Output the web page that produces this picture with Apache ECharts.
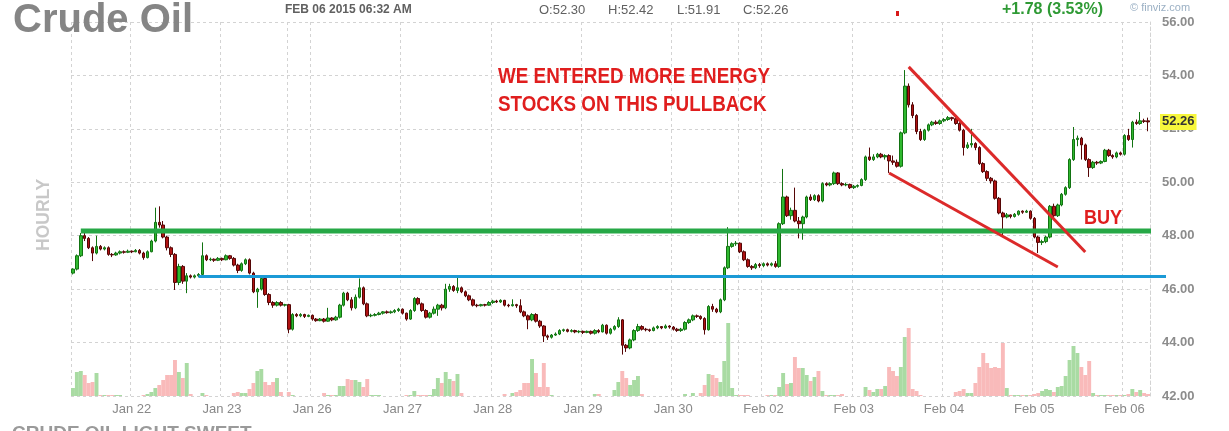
<!DOCTYPE html>
<html><head><meta charset="utf-8">
<script src="https://cdn.jsdelivr.net/npm/echarts@6/dist/echarts.min.js"></script>
<style>html,body{margin:0;padding:0;background:#fff}#c{width:1229px;height:431px}</style>
</head><body><div id="c"></div>
<script>
// ---- DATA ---- rows: [open, close, low, high, volume]
const sessionHours = ['18','19','20','21','22','23','00','01','02','03','04','05','06','07','08','09','10','11','12','13','14','15','16'];

const jan21 = [
[46.60,46.75,46.55,46.78,8],[46.75,47.25,46.70,47.30,24],[47.25,48.00,47.20,48.10,25],[48.00,47.90,47.80,48.15,21],
[47.90,47.55,47.50,47.95,13],[47.55,47.35,47.05,47.60,14],[47.35,47.60,47.30,48.00,23],[47.60,47.50,47.45,47.65,1],
[47.50,47.55,47.45,47.60,1]];
const jan22 = [
[47.55,47.30,47.25,47.60,1],[47.30,47.28,47.20,47.35,1],[47.28,47.35,47.25,47.40,1],[47.35,47.40,47.30,47.45,1],
[47.40,47.38,47.33,47.45,0],[47.38,47.42,47.35,47.48,0],[47.42,47.40,47.35,47.45,0],[47.40,47.45,47.38,47.50,0],
[47.45,47.35,47.30,47.50,0],[47.35,47.18,47.10,47.40,1],[47.18,47.40,47.15,47.45,2],[47.40,47.80,47.38,47.85,4],
[47.80,48.50,47.75,49.05,8],[48.50,48.40,48.30,49.10,11],[48.40,47.95,47.90,48.55,16],[47.95,47.55,47.45,48.00,21],
[47.55,47.30,47.20,47.60,21],[47.30,46.25,45.97,47.35,36],[46.25,46.85,46.15,46.95,24],[46.85,46.30,46.20,46.90,18],
[46.30,46.50,45.85,46.60,33],[46.50,46.45,46.40,46.55,2],[46.45,46.50,46.40,46.55,0]];
const jan23 = [
[46.50,46.55,46.45,46.60,0],[46.55,47.25,46.50,47.75,3],[47.25,47.10,47.05,47.30,1],[47.10,47.12,47.05,47.18,0],
[47.12,47.08,47.02,47.15,0],[47.08,47.15,47.05,47.20,0],[47.15,47.10,47.05,47.18,0],[47.10,47.25,47.08,47.30,0],
[47.25,47.15,47.10,47.28,0],[47.15,46.90,46.85,47.20,3],[46.90,46.70,46.60,46.95,4],[46.70,46.95,46.65,47.00,3],
[46.95,47.10,46.90,47.15,3],[47.10,46.60,46.55,47.15,7],[46.60,45.90,45.85,46.65,13],[45.90,46.00,45.30,46.05,25],
[46.00,46.40,45.95,46.45,27],[46.40,45.80,45.75,46.45,14],[45.80,45.50,45.40,45.85,11],[45.50,45.40,45.30,45.55,14],
[45.40,45.50,45.35,45.55,18],[45.50,45.40,45.35,45.55,4],[45.40,45.42,45.35,45.45,0]];
const jan26 = [
[45.42,44.50,44.35,45.45,4],[44.50,45.05,44.45,45.10,1],[45.05,45.00,44.95,45.10,0],[45.00,45.05,44.95,45.10,0],
[45.05,44.98,44.92,45.08,0],[44.98,45.02,44.95,45.05,0],[45.02,44.88,44.82,45.05,0],[44.88,44.82,44.78,44.92,0],
[44.82,44.88,44.80,44.92,0],[44.88,44.80,44.75,44.92,3],[44.80,44.92,44.78,45.30,1],[44.92,44.85,44.80,44.95,1],
[44.85,44.95,44.82,45.00,1],[44.95,45.40,44.90,45.45,10],[45.40,45.85,45.35,45.90,10],[45.85,45.60,45.55,45.90,17],
[45.60,45.30,45.20,45.70,16],[45.30,45.70,45.25,45.80,16],[45.70,46.05,45.65,46.40,14],[46.05,45.45,45.40,46.10,9],
[45.45,45.00,44.95,45.50,17],[45.00,45.02,44.95,45.08,1],[45.02,45.05,44.98,45.10,1]];
const jan27 = [
[45.05,45.10,45.02,45.15,1],[45.10,45.15,45.05,45.18,0],[45.15,45.12,45.08,45.20,0],[45.12,45.15,45.08,45.20,0],
[45.15,45.20,45.10,45.25,0],[45.20,45.25,45.15,45.30,0],[45.25,45.10,45.05,45.28,0],[45.10,44.88,44.82,45.12,1],
[44.88,45.20,44.85,45.25,1],[45.20,45.65,45.15,45.70,5],[45.65,45.45,45.40,45.70,1],[45.45,45.20,45.15,45.50,1],
[45.20,44.95,44.90,45.25,1],[44.95,45.10,44.90,45.15,1],[45.10,45.25,45.05,45.35,7],[45.25,45.40,45.00,45.45,18],
[45.40,45.30,45.20,45.45,13],[45.30,46.00,45.25,46.20,24],[46.00,46.10,45.90,46.20,17],[46.10,45.95,45.90,46.15,15],
[45.95,46.05,45.85,46.50,22],[46.05,45.90,45.85,46.10,3],[45.90,45.75,45.70,45.95,0]];
const jan28 = [
[45.75,45.60,45.55,45.80,0],[45.60,45.40,45.35,45.65,0],[45.40,45.38,45.32,45.45,0],[45.38,45.42,45.35,45.45,0],
[45.42,45.40,45.35,45.45,0],[45.40,45.50,45.38,45.55,0],[45.50,45.55,45.45,45.60,0],[45.55,45.52,45.48,45.60,0],
[45.52,45.58,45.48,45.62,0],[45.58,45.40,45.35,45.60,2],[45.40,45.38,45.32,45.45,0],[45.38,45.42,45.35,45.62,3],
[45.42,45.38,45.30,45.45,4],[45.38,45.15,45.10,45.62,6],[45.15,45.00,44.95,45.20,13],[45.00,44.85,44.50,45.05,13],
[44.85,45.05,44.80,45.10,37],[45.05,44.80,44.75,45.10,23],[44.80,44.62,44.55,44.85,9],[44.62,44.25,44.02,44.65,33],
[44.25,44.20,44.10,44.30,9],[44.20,44.28,44.15,44.32,1],[44.28,44.32,44.25,44.38,0]];
const jan29 = [
[44.32,44.45,44.28,44.50,0],[44.45,44.48,44.40,44.52,0],[44.48,44.42,44.38,44.52,0],[44.42,44.45,44.38,44.50,0],
[44.45,44.40,44.35,44.48,0],[44.40,44.42,44.35,44.46,0],[44.42,44.38,44.32,44.45,0],[44.38,44.42,44.35,44.45,0],
[44.42,44.35,44.30,44.45,0],[44.35,44.45,44.30,44.50,2],[44.45,44.40,44.35,44.50,2],[44.40,44.65,44.38,44.70,0],
[44.65,44.35,44.30,44.68,0],[44.35,44.50,44.30,44.55,0],[44.50,44.60,44.45,44.65,6],[44.60,44.85,44.55,44.95,14],
[44.85,43.90,43.55,44.88,25],[43.90,43.80,43.65,43.95,18],[43.80,44.10,43.75,44.15,11],[44.10,44.45,44.05,44.50,16],
[44.45,44.60,44.40,44.70,20],[44.60,44.50,44.45,44.65,2],[44.50,44.48,44.42,44.55,0]];
const jan30 = [
[44.48,44.45,44.40,44.52,0],[44.45,44.55,44.42,44.60,0],[44.55,44.60,44.50,44.65,0],[44.60,44.55,44.50,44.62,0],
[44.55,44.62,44.52,44.68,0],[44.62,44.58,44.52,44.65,0],[44.58,44.50,44.45,44.62,0],[44.50,44.45,44.40,44.55,0],
[44.45,44.50,44.40,44.55,0],[44.50,44.75,44.45,44.80,2],[44.75,44.85,44.70,44.90,0],[44.85,45.00,44.80,45.05,3],
[45.00,44.98,44.92,45.05,0],[44.98,44.90,44.85,45.02,3],[44.90,44.48,44.30,44.95,11],[44.48,45.35,44.45,45.40,22],
[45.35,45.25,45.15,45.45,21],[45.25,45.15,45.10,45.30,18],[45.15,45.60,45.10,45.65,14],[45.60,46.80,45.55,46.85,35],
[46.80,47.60,46.75,48.32,73],[47.60,47.70,47.55,47.75,8],[47.70,47.72,47.62,47.80,1]];
const feb02 = [
[47.72,47.40,47.35,47.75,1],[47.40,47.10,47.05,47.45,1],[47.10,46.85,46.80,47.15,1],[46.85,46.80,46.72,46.90,0],
[46.80,46.92,46.75,46.98,0],[46.92,46.88,46.80,46.98,0],[46.88,46.95,46.82,47.00,0],[46.95,46.90,46.85,47.00,1],
[46.90,46.95,46.85,47.00,1],[46.95,46.85,46.80,47.05,1],[46.85,48.45,46.80,48.50,9],[48.45,49.45,48.40,50.50,23],
[49.45,48.75,48.70,49.50,12],[48.75,48.95,48.60,49.05,13],[48.95,48.55,48.50,49.80,39],[48.55,48.45,47.90,48.70,28],
[48.45,48.70,47.85,48.75,28],[48.70,49.45,48.65,49.50,21],[49.45,49.35,49.30,49.55,15],[49.35,49.50,49.30,49.55,19],
[49.50,49.30,49.25,49.55,25],[49.30,49.95,49.25,50.00,5],[49.95,49.90,49.85,50.00,1]];
const feb03 = [
[49.90,49.95,49.85,50.00,1],[49.95,50.35,49.90,50.40,1],[50.35,49.95,49.90,50.38,1],[49.95,49.90,49.85,50.00,2],
[49.90,49.92,49.85,49.98,0],[49.92,49.80,49.75,49.95,0],[49.80,49.85,49.75,49.90,0],[49.85,49.88,49.80,49.92,0],
[49.88,50.10,49.85,50.15,0],[50.10,50.95,50.05,51.00,9],[50.95,50.85,50.80,51.30,6],[50.85,50.95,50.80,51.05,4],
[50.95,51.05,50.90,51.10,7],[51.05,50.95,50.90,51.10,7],[50.95,51.00,50.85,51.05,10],[51.00,50.80,50.35,51.05,29],
[50.80,50.75,50.65,51.00,25],[50.75,50.60,50.55,50.85,20],[50.60,51.85,50.55,51.90,29],[51.85,53.60,51.80,54.20,59],
[53.60,52.90,52.80,53.70,68],[52.90,52.50,52.40,53.00,7],[52.50,51.90,51.80,52.55,5]];
const feb04 = [
[51.90,51.60,51.55,52.00,1],[51.60,51.95,51.55,52.00,0],[51.95,52.15,51.90,52.20,0],[52.15,52.25,52.10,52.30,0],
[52.25,52.20,52.15,52.32,0],[52.20,52.30,52.15,52.35,0],[52.30,52.35,52.25,52.40,0],[52.35,52.42,52.30,52.48,0],
[52.42,52.38,52.30,52.45,0],[52.38,52.20,52.15,52.42,4],[52.20,51.95,51.90,52.25,5],[51.95,51.30,51.00,52.00,7],
[51.30,51.40,51.25,51.50,3],[51.40,51.45,51.30,52.00,3],[51.45,51.30,51.20,51.50,13],[51.30,50.70,50.65,51.35,29],
[50.70,50.40,50.35,50.75,43],[50.40,50.15,50.05,50.45,33],[50.15,50.05,49.95,50.20,28],[50.05,49.40,49.35,50.10,29],
[49.40,48.85,48.80,49.45,28],[48.85,48.70,47.95,48.90,53],[48.70,48.78,48.65,48.85,8]];
const feb05 = [
[48.78,48.72,48.65,48.80,1],[48.72,48.80,48.68,48.85,1],[48.80,48.92,48.75,48.95,1],[48.92,48.88,48.82,48.95,1],
[48.88,48.92,48.85,48.97,1],[48.92,48.65,48.60,48.95,1],[48.65,47.95,47.90,48.70,2],[47.95,47.75,47.35,48.00,3],
[47.75,47.78,47.65,47.85,5],[47.78,47.95,47.72,48.00,7],[47.95,49.10,47.90,49.15,6],[49.10,48.75,48.70,49.20,4],
[48.75,49.15,48.70,49.20,9],[49.15,49.55,49.10,49.60,10],[49.55,49.80,49.50,49.85,20],[49.80,50.85,49.75,50.90,36],
[50.85,51.60,50.80,52.07,50],[51.60,51.65,51.35,51.75,43],[51.65,51.40,50.85,51.70,29],[51.40,50.85,50.80,51.45,21],
[50.85,50.55,50.20,50.90,35],[50.55,50.75,50.50,50.80,3],[50.75,50.72,50.65,50.80,1]];
const feb06 = [
[50.72,50.78,50.68,50.82,1],[50.78,51.20,50.75,51.25,1],[51.20,51.00,50.95,51.25,1],[51.00,50.95,50.88,51.05,1],
[50.95,51.10,50.90,51.15,1],[51.10,51.05,51.00,51.15,1],[51.05,51.75,51.00,51.80,1],[51.75,51.60,51.55,52.00,2],
[51.60,52.25,51.30,52.30,7],[52.25,52.20,52.15,52.35,4],[52.20,52.30,52.15,52.63,6],[52.30,52.28,52.22,52.38,3],
[52.30,52.26,51.91,52.42,2]];

// [day label, first session hour index, rows, starts after weekend]
const sessionList = [
 ['Jan 21',14,jan21,false],['Jan 22',0,jan22,false],['Jan 23',0,jan23,false],['Jan 26',0,jan26,true],
 ['Jan 27',0,jan27,false],['Jan 28',0,jan28,false],['Jan 29',0,jan29,false],['Jan 30',0,jan30,false],
 ['Feb 02',0,feb02,true],['Feb 03',0,feb03,false],['Feb 04',0,feb04,false],['Feb 05',0,feb05,false],['Feb 06',0,feb06,false]];

const yTicks = [42,44,46,48,50,52,54,56];
const levelPrices = [48.18, 46.47];          // green support line, blue line
const levelStartBars = [2, 32];
const wedgeUpper = [[213, 54.32], [258, 47.39]];
const wedgeLower = [[208, 50.35], [251, 46.83]];
const headerStamp = 'FEB 06 2015 06:32 AM';
const changeText = '+1.78 (3.53%)';
const noteLines = ['WE ENTERED MORE ENERGY', 'STOCKS ON THIS PULLBACK'];
const buyText = 'BUY';
const titleText = 'Crude Oil';
const footerText = 'CRUDE OIL LIGHT SWEET';

// ---- BUILD ----
const categories = [], ohlc = [], volumes = [], weekendStarts = new Set();
sessionList.forEach(([day, h0, rows, wk]) => {
  rows.forEach((r, k) => {
    if (k === 0 && wk) weekendStarts.add(categories.length);
    categories.push(day + ' ' + sessionHours[h0 + k] + ':00');
    ohlc.push([r[0], r[1], r[2], r[3]]);
    volumes.push({value: r[4], itemStyle: {color: r[1] >= r[0] ? '#a9dba3' : '#f9baba'}});
  });
});
const last = ohlc[ohlc.length - 1];

const FONT = "'Liberation Sans', Arial, Helvetica, sans-serif";
const GRID = '#d3d3d3';
const chart = echarts.init(document.getElementById('c'), null, {renderer: 'canvas'});
chart.setOption({
  animation: false,
  backgroundColor: '#ffffff',
  grid: {left: 71, right: 79, top: 22, bottom: 35},
  xAxis: {
    type: 'category', data: categories, boundaryGap: true,
    axisLine: {show: false}, axisTick: {show: false},
    axisLabel: {interval: (i, v) => v.endsWith(' 00:00'), formatter: v => v.slice(0, 6),
      color: '#888888', fontSize: 13, fontFamily: FONT, margin: 7},
    splitLine: {show: true, interval: (i, v) => i === 0 || v.endsWith(' 00:00') || weekendStarts.has(i),
      lineStyle: {color: GRID, type: [3, 3], width: 1}}
  },
  yAxis: [
    {type: 'value', position: 'right', min: yTicks[0], max: yTicks[yTicks.length - 1], interval: 2,
     axisLine: {show: true, lineStyle: {color: GRID, type: [3, 3]}}, axisTick: {show: false},
     axisLabel: {formatter: v => v.toFixed(2), color: '#8c8c8c', fontSize: 13, fontWeight: 'bold', margin: 12, fontFamily: FONT},
     splitLine: {show: true, lineStyle: {color: GRID, type: [3, 3]}}},
    {type: 'value', min: 0, max: 374, show: false, splitLine: {show: false}}
  ],
  series: [
    {type: 'bar', yAxisIndex: 1, data: volumes, barCategoryGap: '0%', z: 1, silent: true},
    {type: 'candlestick', data: ohlc, barWidth: 3, z: 3,
     itemStyle: {color: '#2fb82f', color0: '#b01212', borderColor: '#127312', borderColor0: '#550606', borderWidth: 1}}
  ]
});

// ---- ANNOTATIONS (positioned through the chart's own scales) ----
const px = (i, v) => chart.convertToPixel({xAxisIndex: 0, yAxisIndex: 0}, [i, v]);
const step = px(1, 48)[0] - px(0, 48)[0];
const rightEdge = px(ohlc.length - 1, 48)[0] + step / 2;
const lineEl = (a, b, color, w) => ({type: 'line', z: 50, silent: true,
  shape: {x1: a[0], y1: a[1], x2: b[0], y2: b[1]}, style: {stroke: color, lineWidth: w}});
const txt = (text, x, y, size, color, weight, extra) => Object.assign({type: 'text', x: x, y: y, z: 60, silent: true,
  style: {text: text, fill: color, font: weight + ' ' + size + 'px ' + FONT,
    align: 'left', verticalAlign: 'middle', textAlign: 'left', textVerticalAlign: 'middle'}}, extra || {});

const gY = px(0, levelPrices[0])[1];
const bY = px(0, levelPrices[1])[1];
const tagY = px(0, last[1])[1];
const graphics = [
  lineEl([px(levelStartBars[0], 0)[0], gY], [rightEdge + 1, gY], '#26a846', 5),
  lineEl([px(levelStartBars[1], 0)[0], bY], [rightEdge + 16, bY], '#1b9ad6', 3),
  lineEl(px(wedgeUpper[0][0], wedgeUpper[0][1]), px(wedgeUpper[1][0], wedgeUpper[1][1]), '#dc2a2a', 3),
  lineEl(px(wedgeLower[0][0], wedgeLower[0][1]), px(wedgeLower[1][0], wedgeLower[1][1]), '#dc2a2a', 3),
  txt(titleText, 13, 21, 40, '#858585', 'bold'),
  txt(headerStamp, 285, 10, 12, '#606060', 'bold'),
  txt('O:' + last[0].toFixed(2), 539, 10, 13, '#606060', 'normal'),
  txt('H:' + last[3].toFixed(2), 608, 10, 13, '#606060', 'normal'),
  txt('L:' + last[2].toFixed(2), 677, 10, 13, '#606060', 'normal'),
  txt('C:' + last[1].toFixed(2), 743, 10, 13, '#606060', 'normal'),
  txt(changeText, 1002, 10, 16, '#2f9a35', 'bold'),
  txt('\u00a9 finviz.com', 1130, 8, 11, '#9bb0c4', 'normal'),
  txt('HOURLY', 44, 251, 17.5, '#c8c8c8', 'bold', {rotation: Math.PI / 2}),
  txt(footerText, 12, 434, 19, '#9a9a9a', 'bold'),
  txt(noteLines[0], 498, 77, 22, '#e01e1e', 'bold', {scaleX: 0.856}),
  txt(noteLines[1], 498, 105, 22, '#e01e1e', 'bold', {scaleX: 0.856}),
  txt(buyText, 1084, 218, 21, '#e01e1e', 'bold', {scaleX: 0.86}),
  {type: 'rect', z: 55, silent: true, shape: {x: 896, y: 11, width: 3, height: 5}, style: {fill: '#d81818'}},
  {type: 'text', x: 1160, y: tagY, z: 60, silent: true,
   style: {text: last[1].toFixed(2), fill: '#333', font: 'bold 13px ' + FONT, backgroundColor: '#f7f73c',
     padding: [2, 2, 1, 2], align: 'left', verticalAlign: 'middle', textAlign: 'left', textVerticalAlign: 'middle'}}
];
chart.setOption({graphic: graphics});
</script>
</body></html>
